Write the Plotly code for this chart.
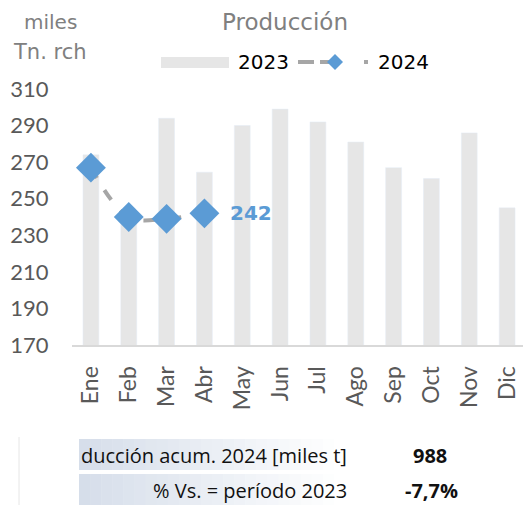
import plotly.graph_objects as go

months = ["Ene", "Feb", "Mar", "Abr", "May", "Jun", "Jul", "Ago", "Sep", "Oct", "Nov", "Dic"]
prod_2023 = [274, 238, 294, 264.5, 290, 299, 292, 281, 267, 261, 286, 245]
prod_2024 = [267, 240, 239, 242]
y_ticks = [170, 190, 210, 230, 250, 270, 290, 310]
acum_label = "ducción acum. 2024 [miles t]"
acum_value = "988"
pct_label = "% Vs. = período 2023"
pct_value = "-7,7%"

W, H = 523, 505
L, R, T, B = 72, 0, 89, 160
PW, PH = W - L - R, H - T - B

GRAY_BAR = "#e6e6e6"
BLUE = "#5b9bd5"
LINE_GRAY = "#a6a6a6"
TXT_GRAY = "#595959"
TITLE_GRAY = "#808080"
AXFONT = "Lato"

fig = go.Figure()
fig.add_trace(go.Bar(x=months, y=prod_2023, marker_color=GRAY_BAR, width=0.42,
                     name="2023", showlegend=False))
fig.add_trace(go.Scatter(x=months[:len(prod_2024)], y=prod_2024, mode="lines+markers",
                         line=dict(color=LINE_GRAY, width=4, dash="12px,14px", shape="spline"),
                         marker=dict(symbol="diamond", size=23, color=BLUE),
                         name="2024", showlegend=False))

# data label for last 2024 value
fig.add_annotation(x=months[len(prod_2024) - 1], y=prod_2024[-1], text="<b>%d</b>" % prod_2024[-1],
                   showarrow=False, xanchor="left", xshift=24, yshift=0,
                   font=dict(family="DejaVu Sans", size=20, color=BLUE))

shapes = []
annotations = []

def px(x):
    return (x - L) / PW

def py(y):
    return (T + PH - y) / PH

# Title and unit labels
annotations.append(dict(x=px(285), y=py(22), xref="paper", yref="paper", text="Producción",
                        showarrow=False, font=dict(family="DejaVu Sans", size=23, color=TITLE_GRAY),
                        xanchor="center", yanchor="middle"))
annotations.append(dict(x=px(50), y=py(22), xref="paper", yref="paper", text="miles",
                        showarrow=False, font=dict(family="DejaVu Sans", size=20, color=TITLE_GRAY),
                        xanchor="center", yanchor="middle"))
annotations.append(dict(x=px(50), y=py(52), xref="paper", yref="paper", text="Tn. rch",
                        showarrow=False, font=dict(family="DejaVu Sans", size=21, color=TITLE_GRAY),
                        xanchor="center", yanchor="middle"))

# Manual legend
shapes.append(dict(type="rect", xref="paper", yref="paper", x0=px(161), x1=px(229), y0=py(57), y1=py(68),
                   fillcolor=GRAY_BAR, line=dict(width=0)))
annotations.append(dict(x=px(236), y=py(62), xref="paper", yref="paper", text="2023", showarrow=False,
                        xanchor="left", yanchor="middle", font=dict(family="DejaVu Sans", size=20, color="#000000")))
for x0, x1 in [(298, 314), (320, 340), (364, 368)]:
    shapes.append(dict(type="line", xref="paper", yref="paper", x0=px(x0), x1=px(x1), y0=py(62), y1=py(62),
                       line=dict(color=LINE_GRAY, width=4)))
cx, cy, r = 335, 62, 8
shapes.append(dict(type="path", xref="paper", yref="paper",
                   path="M %f %f L %f %f L %f %f L %f %f Z" % (px(cx - r), py(cy), px(cx), py(cy - r),
                                                            px(cx + r), py(cy), px(cx), py(cy + r)),
                   fillcolor=BLUE, line=dict(width=0)))
annotations.append(dict(x=px(376), y=py(62), xref="paper", yref="paper", text="2024", showarrow=False,
                        xanchor="left", yanchor="middle", font=dict(family="DejaVu Sans", size=20, color="#000000")))

# Bottom table with gradient backgrounds
n_strips = 24
x_start, x_end = 79, 345
c0 = (214, 222, 234)
for row_y0, row_y1 in [(439, 470), (474, 505)]:
    for i in range(n_strips):
        t = i / (n_strips - 1)
        col = tuple(int(round(c0[k] + (255 - c0[k]) * t)) for k in range(3))
        xa = x_start + (x_end - x_start) * i / n_strips
        xb = x_start + (x_end - x_start) * (i + 1) / n_strips + 0.5
        shapes.append(dict(type="rect", xref="paper", yref="paper", x0=px(xa), x1=px(xb),
                           y0=py(row_y1), y1=py(row_y0), fillcolor="rgb(%d,%d,%d)" % col,
                           line=dict(width=0), layer="below"))
shapes.append(dict(type="line", xref="paper", yref="paper", x0=px(19), x1=px(19), y0=py(437), y1=py(505),
                   line=dict(color="#e6e6e6", width=1)))

TFONT = "Open Sans"
annotations.append(dict(x=px(349), y=py(455), xref="paper", yref="paper", text=acum_label, showarrow=False,
                        xanchor="right", yanchor="middle", font=dict(family=TFONT, size=20, color="#111111")))
annotations.append(dict(x=px(430), y=py(455), xref="paper", yref="paper", text="<b>%s</b>" % acum_value,
                        showarrow=False, xanchor="center", yanchor="middle",
                        font=dict(family=TFONT, size=20, color="#111111")))
annotations.append(dict(x=px(349), y=py(490), xref="paper", yref="paper", text=pct_label, showarrow=False,
                        xanchor="right", yanchor="middle", font=dict(family=TFONT, size=20, color="#111111")))
annotations.append(dict(x=px(431), y=py(490), xref="paper", yref="paper", text="<b>%s</b>" % pct_value,
                        showarrow=False, xanchor="center", yanchor="middle",
                        font=dict(family=TFONT, size=20, color="#111111")))

fig.update_layout(
    width=W, height=H,
    margin=dict(l=L, r=R, t=T, b=B, pad=0),
    paper_bgcolor="white", plot_bgcolor="white",
    showlegend=False,
    bargap=0.58,
    shapes=shapes,
    annotations=list(fig.layout.annotations) + annotations,
    xaxis=dict(type="category", categoryorder="array", categoryarray=months,
               range=[-0.5, 11.42], showgrid=False, zeroline=False,
               showline=True, linecolor="#d9d9d9", linewidth=2,
               tickangle=-90, ticks="outside", ticklen=10, tickcolor="rgba(0,0,0,0)",
               tickfont=dict(family=AXFONT, size=23, color=TXT_GRAY, weight=400)),
    yaxis=dict(range=[170, 310], tickvals=y_ticks, showgrid=False, zeroline=False, showline=False,
               ticks="outside", ticklen=18, tickcolor="rgba(0,0,0,0)",
               tickfont=dict(family=AXFONT, size=22, color=TXT_GRAY, weight=400)),
)

fig.write_html("out.html", config={"displayModeBar": False},
               post_script="document.body.style.margin='0px';document.body.style.overflow='hidden';")
